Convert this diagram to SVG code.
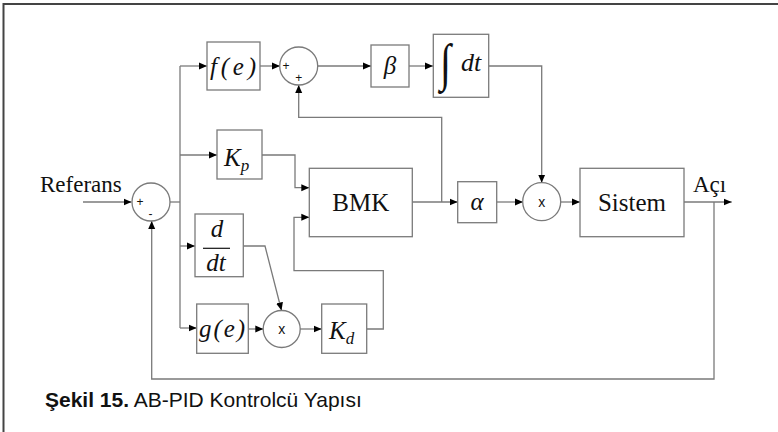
<svg xmlns="http://www.w3.org/2000/svg" width="778" height="432" viewBox="0 0 778 432">
<style>
.box{fill:#fff;stroke:#7a7a7a;stroke-width:1.3}
.sum{fill:#fff;stroke:#7a7a7a;stroke-width:1.3}
.wire{fill:none;stroke:#7a7a7a;stroke-width:1.3}
.m{font-family:"Liberation Serif","DejaVu Serif",serif;font-style:italic;fill:#111}
.t{font-family:"Liberation Serif","Times New Roman",serif;fill:#111}
.s{font-family:"Liberation Sans",Arial,sans-serif;fill:#111}
</style>
<defs>
<marker id="ah" markerUnits="userSpaceOnUse" markerWidth="9" markerHeight="8" refX="8" refY="4" orient="auto">
<path d="M0,0.5 L8,4 L0,7.5 z" fill="#000"/>
</marker>
</defs>
<rect x="0" y="0" width="778" height="432" fill="#fff"/>
<path d="M3.5,432 V4 H778" fill="none" stroke="#444" stroke-width="2"/>

<g id="connectors">
<path class="wire" d="M83,202 H131.5" marker-end="url(#ah)"/>
<path class="wire" d="M170,202 H180"/>
<path class="wire" d="M180,66 V328"/>
<path class="wire" d="M180,66 H207" marker-end="url(#ah)"/>
<path class="wire" d="M180,155 H217" marker-end="url(#ah)"/>
<path class="wire" d="M180,246 H195" marker-end="url(#ah)"/>
<path class="wire" d="M180,328 H196.7" marker-end="url(#ah)"/>
<path class="wire" d="M260,66 H280" marker-end="url(#ah)"/>
<path class="wire" d="M317.5,66 H371" marker-end="url(#ah)"/>
<path class="wire" d="M409,66 H433" marker-end="url(#ah)"/>
<path class="wire" d="M489,66 H541.7 V182.7" marker-end="url(#ah)"/>
<path class="wire" d="M412,202 H457.7" marker-end="url(#ah)"/>
<path class="wire" d="M441.7,202 V117.3 H298.7 V85" marker-end="url(#ah)"/>
<path class="wire" d="M496.7,202 H523" marker-end="url(#ah)"/>
<path class="wire" d="M561,202 H580" marker-end="url(#ah)"/>
<path class="wire" d="M684,202 H731.7" marker-end="url(#ah)"/>
<path class="wire" d="M714,202 V379 H151.7 V221" marker-end="url(#ah)"/>
<path class="wire" d="M262,155 H295 V187.7 H309.3" marker-end="url(#ah)"/>
<path class="wire" d="M243.3,246 H265 L281.5,310.5" marker-end="url(#ah)"/>
<path class="wire" d="M248.3,329 H263.3" marker-end="url(#ah)"/>
<path class="wire" d="M300,329 H321.7" marker-end="url(#ah)"/>
<path class="wire" d="M366.7,329 H383.3 V270.7 H294 V217.3 H309.3" marker-end="url(#ah)"/>
</g>

<g id="referans"><text class="t" x="40" y="192" font-size="23">Referans</text></g>

<g id="sum1">
<circle class="sum" cx="151" cy="202" r="19"/>
<text class="s" x="140" y="206" font-size="12" text-anchor="middle">+</text>
<text class="s" x="150.5" y="218" font-size="12" text-anchor="middle">-</text>
</g>

<g id="fe">
<rect class="box" x="207" y="42" width="53" height="48"/>
<text class="m" x="210" y="75" font-size="25" textLength="46" lengthAdjust="spacing">f(e)</text>
</g>

<g id="sum2">
<circle class="sum" cx="298.7" cy="66" r="19"/>
<text class="s" x="286" y="70" font-size="12" text-anchor="middle">+</text>
<text class="s" x="298.7" y="82" font-size="12" text-anchor="middle">+</text>
</g>

<g id="beta">
<rect class="box" x="371" y="45" width="38" height="42"/>
<text class="m" x="390" y="74" font-size="25" text-anchor="middle">β</text>
</g>

<g id="integral">
<rect class="box" x="433.3" y="34.3" width="55.4" height="63"/>
<text class="t" x="0" y="0" font-size="40" transform="translate(440,80) scale(1,1.3)">∫</text>
<text class="m" x="461" y="71" font-size="26">dt</text>
</g>

<g id="kp">
<rect class="box" x="217" y="130" width="45" height="49"/>
<text class="m" x="224" y="166" font-size="25">K<tspan font-size="17" dy="5">p</tspan></text>
</g>

<g id="bmk">
<rect class="box" x="309.3" y="168.3" width="103" height="68.4"/>
<text class="t" x="360.8" y="211" font-size="25" text-anchor="middle">BMK</text>
</g>

<g id="alpha">
<rect class="box" x="457.7" y="181.7" width="39" height="41"/>
<text class="m" x="477" y="210" font-size="25" text-anchor="middle">α</text>
</g>

<g id="mult2">
<circle class="sum" cx="541.7" cy="201.7" r="19"/>
<text class="s" x="541.7" y="207" font-size="14" text-anchor="middle">x</text>
</g>

<g id="sistem">
<rect class="box" x="580" y="168.3" width="104" height="68.4"/>
<text class="t" x="632" y="211" font-size="25" text-anchor="middle">Sistem</text>
</g>

<g id="aci"><text class="t" x="693" y="192" font-size="23">Açı</text></g>

<g id="ddt">
<rect class="box" x="195" y="214" width="48.3" height="62.7"/>
<text class="m" x="217" y="237" font-size="25" text-anchor="middle">d</text>
<line x1="203" y1="248.3" x2="230" y2="248.3" stroke="#111" stroke-width="1.2"/>
<text class="m" x="216" y="271" font-size="25" text-anchor="middle">dt</text>
</g>

<g id="ge">
<rect class="box" x="196.7" y="304" width="51.6" height="49.3"/>
<text class="m" x="199" y="337" font-size="25" textLength="46" lengthAdjust="spacing">g(e)</text>
</g>

<g id="mult1">
<circle class="sum" cx="281.7" cy="329" r="18.5"/>
<text class="s" x="281.7" y="334" font-size="14" text-anchor="middle">x</text>
</g>

<g id="kd">
<rect class="box" x="321.7" y="304" width="45" height="49.3"/>
<text class="m" x="329" y="339" font-size="25">K<tspan font-size="17" dy="5">d</tspan></text>
</g>

<g id="caption">
<text class="s" x="45" y="407" font-size="21"><tspan font-weight="bold">Şekil 15.</tspan> AB-PID Kontrolcü Yapısı</text>
</g>
</svg>
